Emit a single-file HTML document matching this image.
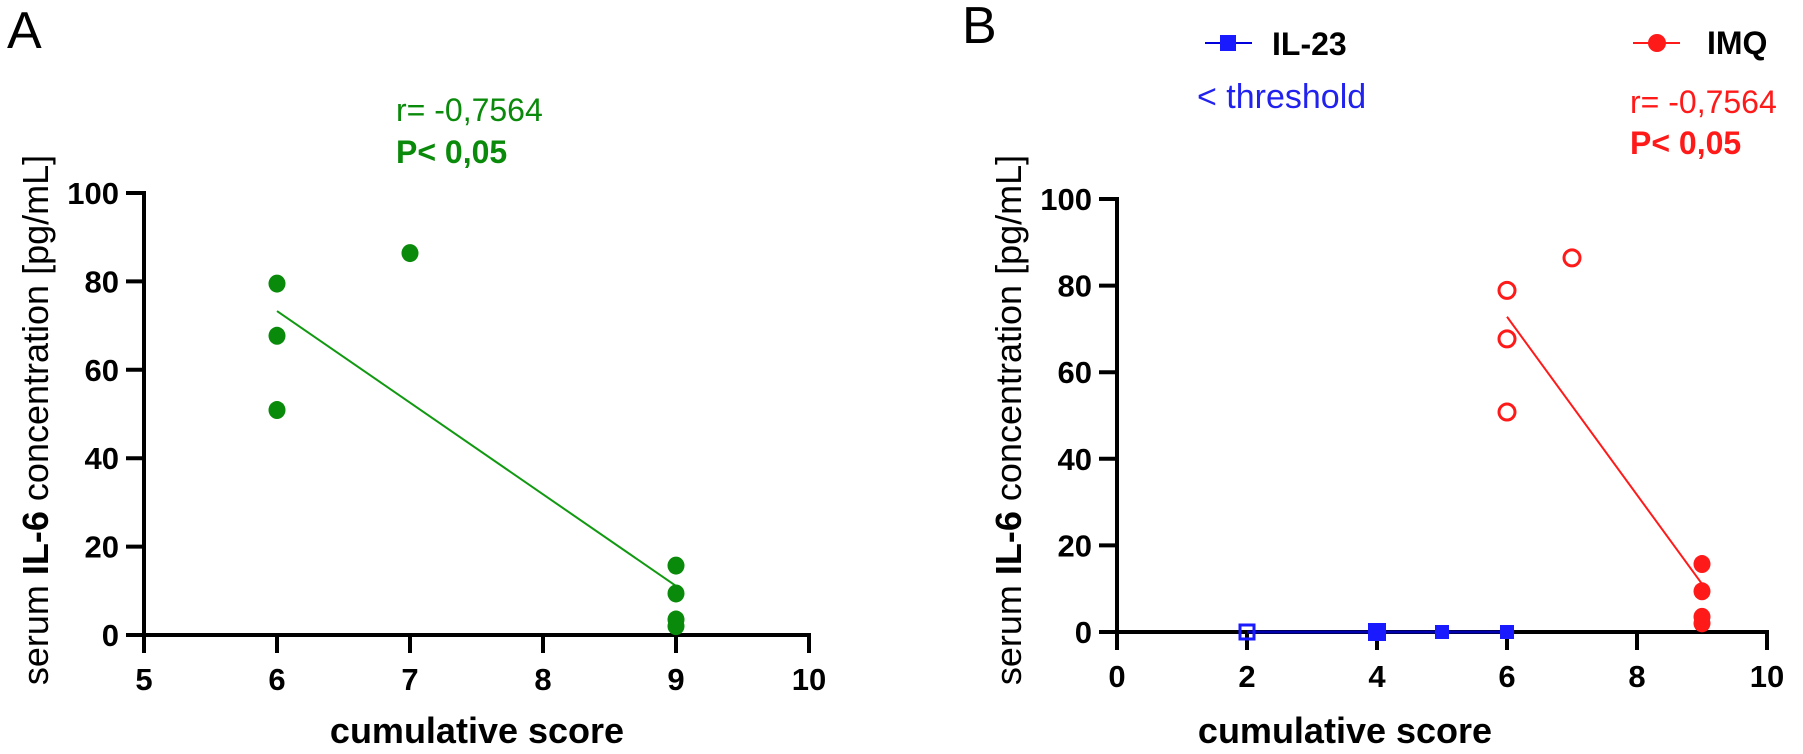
<!DOCTYPE html>
<html><head><meta charset="utf-8"><style>
html,body{margin:0;padding:0;background:#fff;}
svg{display:block;font-family:"Liberation Sans",Arial,sans-serif;}
</style></head><body>
<svg id="fig" width="1803" height="754" viewBox="0 0 1803 754"></svg>
<script>
// Panel A data
const aX = [6, 6, 6, 7, 9, 9, 9, 9];
const aY = [79.5, 67.7, 50.9, 86.4, 15.7, 9.4, 3.5, 2];
const aFitX = [6, 9];
const aFitY = [73.3, 11.1];
const aXTicks = [5, 6, 7, 8, 9, 10];
const yTicks = [0, 20, 40, 60, 80, 100];
// Panel B data
const imqOpenX = [6, 6, 6, 7];
const imqOpenY = [78.9, 67.7, 50.8, 86.4];
const imqFillX = [9, 9, 9, 9];
const imqFillY = [15.7, 9.4, 3.5, 2];
const imqFitX = [6, 9];
const imqFitY = [72.8, 11.1];
const il23X = [2, 4, 5, 6];
const il23Y = [0, 0, 0, 0];
const il23Open = [true, false, false, false];
const bXTicks = [0, 2, 4, 6, 8, 10];

const NS = "http://www.w3.org/2000/svg";
const svg = document.getElementById("fig");
function mk(tag, attrs, parent) {
  const e = document.createElementNS(NS, tag);
  for (const k in attrs) e.setAttribute(k, attrs[k]);
  (parent || svg).appendChild(e);
  return e;
}
function txt(s, attrs, parent) { const t = mk("text", attrs, parent); t.textContent = s; return t; }

function axes(g, sx, sy, xmin, xmax, xt, name) {
  const ax = mk("g", {}, g);
  
  
  mk("line", {x1: sx(xmin), y1: sy(100) - 2, x2: sx(xmin), y2: sy(0) + 18, stroke: "#000", "stroke-width": 4}, ax);
  mk("line", {x1: sx(xmin) - 18, y1: sy(0), x2: sx(xmax) + 2, y2: sy(0), stroke: "#000", "stroke-width": 4}, ax);
  yTicks.forEach(v => {
    mk("line", {x1: sx(xmin) - 18, y1: sy(v), x2: sx(xmin), y2: sy(v), stroke: "#000", "stroke-width": 4}, ax);
    const t = txt(String(v), {x: sx(xmin) - 25, y: sy(v) + 11, "text-anchor": "end", "font-size": 31, "font-weight": "bold"}, ax);
    
    
  });
  xt.forEach(v => {
    mk("line", {x1: sx(v), y1: sy(0), x2: sx(v), y2: sy(0) + 18, stroke: "#000", "stroke-width": 4}, ax);
    const t = txt(String(v), {x: sx(v), y: sy(0) + 55, "text-anchor": "middle", "font-size": 31, "font-weight": "bold"}, ax);
    
    
  });
}
function ytitle(g, x, y) {
  const t = mk("text", {x: 0, y: 0, transform: `translate(${x},${y}) rotate(-90)`, "text-anchor": "middle", "font-size": 36}, g);
  
  
  t.innerHTML = 'serum <tspan font-weight="bold">IL-6</tspan> concentration [pg/mL]';
}

// ---------- Panel A ----------
const gA = mk("g", {});


const axA = v => 144 + (v - 5) * 133;
const ayA = v => 635 - v * 4.42;
axes(gA, axA, ayA, 5, 10, aXTicks, "panel-a");
let t = txt("A", {x: 7, y: 48, "font-size": 52}, gA);


t = txt("r= -0,7564", {x: 396, y: 121, "font-size": 32, fill: "#0a8a0a"}, gA);


t = txt("P< 0,05", {x: 396, y: 163, "font-size": 32, "font-weight": "bold", fill: "#0a8a0a"}, gA);


ytitle(gA, 48, 420);
t = txt("cumulative score", {x: 477, y: 743, "text-anchor": "middle", "font-size": 36, "font-weight": "bold"}, gA);


const fitA = mk("line", {x1: axA(aFitX[0]), y1: ayA(aFitY[0]), x2: axA(aFitX[1]), y2: ayA(aFitY[1]), stroke: "#119911", "stroke-width": 2}, gA);


aX.forEach((x, i) => {
  const c = mk("ellipse", {cx: axA(x), cy: ayA(aY[i]), rx: 8.5, ry: 9, fill: "#0a8a0a"}, gA);
  
  
});

// ---------- Panel B ----------
const gB = mk("g", {});


const axB = v => 1117 + v * 65;
const ayB = v => 632 - v * 4.33;
axes(gB, axB, ayB, 0, 10, bXTicks, "panel-b");
t = txt("B", {x: 962, y: 43, "font-size": 52}, gB);


ytitle(gB, 1021, 420);
t = txt("cumulative score", {x: 1345, y: 743, "text-anchor": "middle", "font-size": 36, "font-weight": "bold"}, gB);



// legend
const lg1 = mk("g", {}, gB);


mk("line", {x1: 1205, y1: 43, x2: 1252, y2: 43, stroke: "#0000dd", "stroke-width": 2}, lg1);
mk("rect", {x: 1220, y: 35, width: 16, height: 16, fill: "#1a1aff"}, lg1);
txt("IL-23", {x: 1272, y: 55, "font-size": 32, "font-weight": "bold"}, lg1);
t = txt("< threshold", {x: 1197, y: 108, "font-size": 34, fill: "#2222ee"}, gB);


const lg2 = mk("g", {}, gB);


mk("line", {x1: 1633, y1: 43, x2: 1680, y2: 43, stroke: "#ff1a1a", "stroke-width": 2}, lg2);
mk("circle", {cx: 1657, cy: 43, r: 9, fill: "#ff1a1a"}, lg2);
txt("IMQ", {x: 1707, y: 54, "font-size": 32, "font-weight": "bold"}, lg2);
t = txt("r= -0,7564", {x: 1630, y: 113, "font-size": 32, fill: "#ff1a1a"}, gB);


t = txt("P< 0,05", {x: 1630, y: 154, "font-size": 32, "font-weight": "bold", fill: "#ff1a1a"}, gB);



// IL-23 series
const il23Line = mk("line", {x1: axB(il23X[0]), y1: ayB(il23Y[0]), x2: axB(il23X[il23X.length - 1]), y2: ayB(il23Y[il23Y.length - 1]), stroke: "#0000b0", "stroke-width": 3}, gB);


il23X.forEach((x, i) => {
  const s = il23Open[i] ? 14 : (x === 4 ? 18 : 14);
  const r = mk("rect", il23Open[i]
    ? {x: axB(x) - s / 2, y: ayB(il23Y[i]) - s / 2, width: s, height: s, fill: "none", stroke: "#1a1aff", "stroke-width": 3}
    : {x: axB(x) - s / 2, y: ayB(il23Y[i]) - s / 2, width: s, height: s, fill: "#1a1aff"}, gB);
  
  
});
// IMQ series
const fitB = mk("line", {x1: axB(imqFitX[0]), y1: ayB(imqFitY[0]), x2: axB(imqFitX[1]), y2: ayB(imqFitY[1]), stroke: "#ff1a1a", "stroke-width": 2}, gB);


imqOpenX.forEach((x, i) => {
  const c = mk("circle", {cx: axB(x), cy: ayB(imqOpenY[i]), r: 8, fill: "none", stroke: "#ff1a1a", "stroke-width": 3}, gB);
  
  
});
imqFillX.forEach((x, i) => {
  const c = mk("ellipse", {cx: axB(x), cy: ayB(imqFillY[i]), rx: 8.5, ry: 9, fill: "#ff1a1a"}, gB);
  
  
});
</script>
</body></html>
